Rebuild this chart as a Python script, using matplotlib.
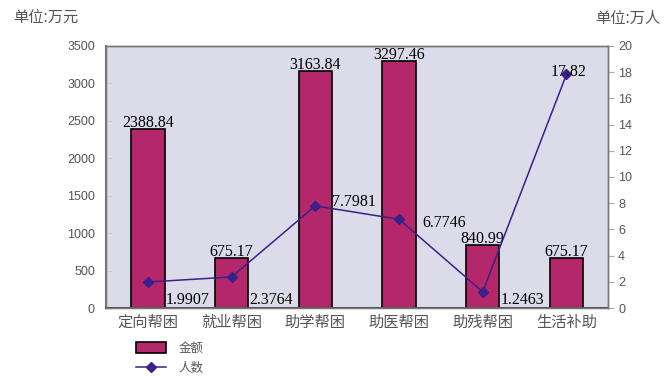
import matplotlib
matplotlib.use('Agg')
import matplotlib.pyplot as plt
import numpy as np

plt.rcParams['font.family'] = ['Noto Sans CJK SC', 'DejaVu Sans']

# data
categories = ['定向帮困', '就业帮困', '助学帮困', '助医帮困', '助残帮困', '生活补助']
amounts = [2388.84, 675.17, 3163.84, 3297.46, 840.99, 675.17]   # 万元
people = [1.9907, 2.3764, 7.7981, 6.7746, 1.2463, 17.82]        # 万人
amount_labels = ['2388.84', '675.17', '3163.84', '3297.46', '840.99', '675.17']
people_labels = ['1.9907', '2.3764', '7.7981', '6.7746', '1.2463', '17.82']

bar_color = '#b5276b'
line_color = '#3a2088'
bg_color = '#dcdbe9'
grey = '#555555'

fig = plt.figure(figsize=(6.67, 3.79), dpi=100)
ax = fig.add_axes([0.159, 0.187, 0.753, 0.692])
ax.set_facecolor(bg_color)
x = np.arange(len(categories))

bars = ax.bar(x, amounts, width=0.4, color=bar_color, edgecolor='black', linewidth=1.2,
              label='金额', zorder=2)
ax.set_xlim(-0.5, len(categories) - 0.5)
ax.set_ylim(0, 3500)
ax.set_yticks(np.arange(0, 3501, 500))
ax.set_xticks(x)
ax.set_xticklabels(categories, fontsize=11, color='#555555', fontweight='light')
ax.tick_params(axis='x', length=0, pad=4)
ax.tick_params(axis='y', direction='in', length=4, color='#cccccc', labelsize=9,
               labelcolor=grey, pad=8)
for lab in ax.get_yticklabels():
    lab.set_family('Liberation Sans')

# bar value labels
for xi, v, t in zip(x, amounts, amount_labels):
    ax.annotate(t, (xi, v), xytext=(0, -2), textcoords='offset pixels',
                ha='center', va='bottom', fontsize=11.5, family='Liberation Serif', zorder=5)

ax2 = ax.twinx()
ax2.plot(x, people, color=line_color, marker='D', markersize=5, linewidth=1.1,
         label='人数', zorder=3)
ax2.set_ylim(0, 20)
ax2.set_yticks(np.arange(0, 21, 2))
ax2.tick_params(axis='y', direction='out', length=4, color='#aaaaaa', labelsize=9,
                labelcolor=grey, pad=3)
for lab in ax2.get_yticklabels():
    lab.set_family('Liberation Sans')

# line value labels
offsets = {0: 'low', 1: 'low', 2: (17, 4), 3: (23, -4), 4: 'low', 5: (0, 0)}
for i, (v, t) in enumerate(zip(people, people_labels)):
    off = offsets[i]
    if off == 'low':
        ax2.annotate(t, (x[i], 0), xytext=(18, 8), textcoords='offset pixels',
                     ha='left', va='center', fontsize=11.5, family='Liberation Serif')
    elif i == 5:
        ax2.annotate(t, (x[i], v), xytext=(2, 2), textcoords='offset pixels',
                     ha='center', va='center', fontsize=11.5, family='Liberation Serif')
    else:
        ax2.annotate(t, (x[i], v), xytext=off, textcoords='offset pixels',
                     ha='left', va='center', fontsize=11.5, family='Liberation Serif')

for a in (ax, ax2):
    for s in a.spines.values():
        s.set_color('#777777')
        s.set_linewidth(1.0)
ax.spines['bottom'].set_color('#555555')
ax.spines['bottom'].set_linewidth(1.5)
ax.spines['left'].set_linewidth(1.5)

fig.text(0.02, 0.952, '单位:万元', fontsize=11, color=grey, va='center', ha='left',
         fontweight='light')
fig.text(0.99, 0.952, '单位:万人', fontsize=11, color=grey, va='center', ha='right',
         fontweight='light')

h1, l1 = ax.get_legend_handles_labels()
h2, l2 = ax2.get_legend_handles_labels()
leg = fig.legend(h1 + h2, l1 + l2, loc='upper left', bbox_to_anchor=(0.194, 0.115),
                 frameon=False, fontsize=9, handlelength=2.4, handleheight=0.9,
                 labelspacing=0.55, borderpad=0, handletextpad=1.0)
for t in leg.get_texts():
    t.set_color(grey)

fig.savefig('out.png', dpi=100)
